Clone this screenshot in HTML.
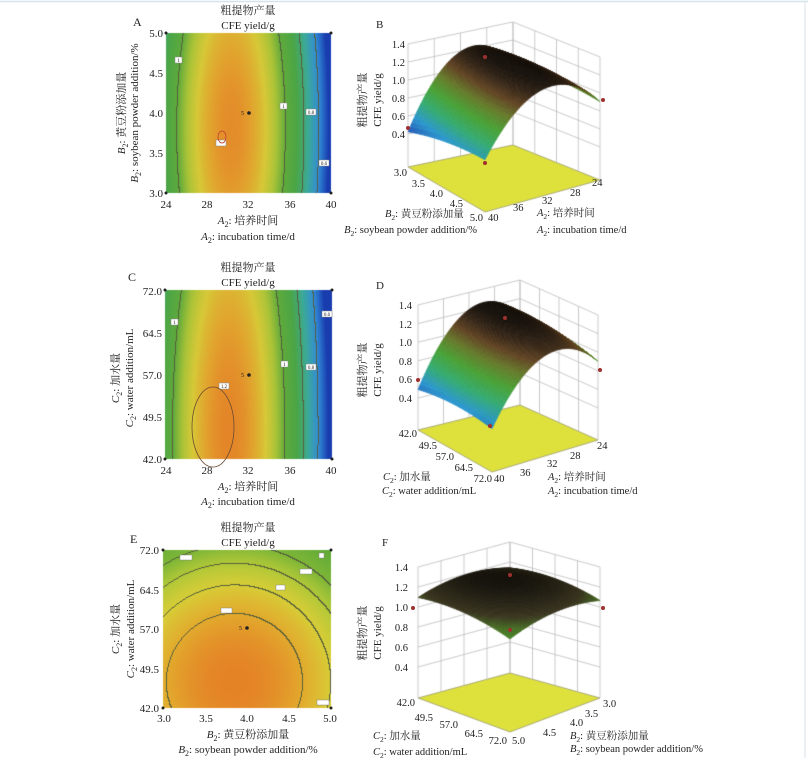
<!DOCTYPE html>
<html><head><meta charset="utf-8">
<style>
html,body{margin:0;padding:0;background:#fff;}
#wrap{position:relative;width:808px;height:758px;overflow:hidden;}
canvas,svg{position:absolute;left:0;top:0;}
text{font-family:"Liberation Serif","Noto Serif CJK SC",serif;fill:#222;}
</style></head>
<body><div id="wrap">
<canvas id="c" width="808" height="758"></canvas>
<svg width="808" height="758" viewBox="0 0 808 758">
<line x1="0" y1="1.5" x2="808" y2="1.5" stroke="#d4e4ea" stroke-width="1.5"/>
<line x1="805" y1="0" x2="805" y2="758" stroke="#e4ecef" stroke-width="1.5"/>
<g font-size="11">
<text x="133" y="26" font-size="12">A</text>
<text x="248" y="14" text-anchor="middle">粗提物产量</text>
<text x="248" y="29" text-anchor="middle">CFE yield/g</text>
<g text-anchor="end"><text x="163" y="37">5.0</text><text x="163" y="77">4.5</text><text x="163" y="117">4.0</text><text x="163" y="157">3.5</text><text x="163" y="197">3.0</text></g>
<g text-anchor="middle"><text x="166" y="208">24</text><text x="207" y="208">28</text><text x="248" y="208">32</text><text x="290" y="208">36</text><text x="331" y="208">40</text></g>
<text x="248" y="224" text-anchor="middle"><tspan font-style="italic">A</tspan><tspan font-size="8" dy="3">2</tspan><tspan dy="-3">:  培养时间</tspan></text>
<text x="248" y="240" text-anchor="middle"><tspan font-style="italic">A</tspan><tspan font-size="8" dy="3">2</tspan><tspan dy="-3">: incubation time/d</tspan></text>
<text transform="translate(125,113) rotate(-90)" text-anchor="middle"><tspan font-style="italic">B</tspan><tspan font-size="8" dy="3">2</tspan><tspan dy="-3">: 黄豆粉添加量</tspan></text>
<text transform="translate(138,113) rotate(-90)" text-anchor="middle"><tspan font-style="italic">B</tspan><tspan font-size="8" dy="3">2</tspan><tspan dy="-3">: soybean powder addition/%</tspan></text>
<text x="128" y="281" font-size="12">C</text>
<text x="248" y="271" text-anchor="middle">粗提物产量</text>
<text x="248" y="286" text-anchor="middle">CFE yield/g</text>
<g text-anchor="end"><text x="162" y="295">72.0</text><text x="162" y="337">64.5</text><text x="162" y="379">57.0</text><text x="162" y="421">49.5</text><text x="162" y="463">42.0</text></g>
<g text-anchor="middle"><text x="166" y="474">24</text><text x="207" y="474">28</text><text x="248" y="474">32</text><text x="290" y="474">36</text><text x="331" y="474">40</text></g>
<text x="248" y="490" text-anchor="middle"><tspan font-style="italic">A</tspan><tspan font-size="8" dy="3">2</tspan><tspan dy="-3">:  培养时间</tspan></text>
<text x="248" y="505" text-anchor="middle"><tspan font-style="italic">A</tspan><tspan font-size="8" dy="3">2</tspan><tspan dy="-3">: incubation time/d</tspan></text>
<text transform="translate(119,378) rotate(-90)" text-anchor="middle"><tspan font-style="italic">C</tspan><tspan font-size="8" dy="3">2</tspan><tspan dy="-3">: 加水量</tspan></text>
<text transform="translate(133,378) rotate(-90)" text-anchor="middle"><tspan font-style="italic">C</tspan><tspan font-size="8" dy="3">2</tspan><tspan dy="-3">: water addition/mL</tspan></text>
<text x="130" y="543" font-size="12">E</text>
<text x="248" y="531" text-anchor="middle">粗提物产量</text>
<text x="248" y="546" text-anchor="middle">CFE yield/g</text>
<g text-anchor="end"><text x="159" y="554">72.0</text><text x="159" y="594">64.5</text><text x="159" y="633">57.0</text><text x="159" y="673">49.5</text><text x="159" y="712">42.0</text></g>
<g text-anchor="middle"><text x="164" y="722">3.0</text><text x="206" y="722">3.5</text><text x="247" y="722">4.0</text><text x="289" y="722">4.5</text><text x="330" y="722">5.0</text></g>
<text x="248" y="738" text-anchor="middle"><tspan font-style="italic">B</tspan><tspan font-size="8" dy="3">2</tspan><tspan dy="-3">: 黄豆粉添加量</tspan></text>
<text x="248" y="753" text-anchor="middle"><tspan font-style="italic">B</tspan><tspan font-size="8" dy="3">2</tspan><tspan dy="-3">: soybean powder addition/%</tspan></text>
<text transform="translate(119,629) rotate(-90)" text-anchor="middle"><tspan font-style="italic">C</tspan><tspan font-size="8" dy="3">2</tspan><tspan dy="-3">: 加水量</tspan></text>
<text transform="translate(134,629) rotate(-90)" text-anchor="middle"><tspan font-style="italic">C</tspan><tspan font-size="8" dy="3">2</tspan><tspan dy="-3">: water addition/mL</tspan></text>
</g>

<g fill="#fff" stroke="#888" stroke-width="0.5">
<rect x="175" y="57" width="7" height="6"/><rect x="280" y="103" width="7" height="6"/><rect x="306" y="109" width="10" height="6"/><rect x="319" y="160" width="10" height="6"/><rect x="216" y="140" width="10" height="6"/>
<rect x="171" y="319" width="7" height="6"/><rect x="281" y="361" width="7" height="6"/><rect x="306" y="364" width="10" height="6"/><rect x="322" y="311" width="10" height="6"/><rect x="219" y="383" width="10" height="6"/>
<rect x="180" y="555" width="12" height="5"/><rect x="319" y="553" width="5" height="5"/><rect x="300" y="569" width="12" height="5"/><rect x="276" y="585" width="9" height="5"/><rect x="221" y="608" width="11" height="5"/><rect x="317" y="700" width="12" height="5"/>
</g>
<g font-size="5" fill="#555" text-anchor="middle"><text x="178.5" y="62">1</text><text x="283.5" y="108">1</text><text x="311" y="114">0.8</text><text x="324" y="165">0.6</text><text x="174.5" y="324">1</text><text x="284.5" y="366">1</text><text x="311" y="369">0.8</text><text x="327" y="316">0.6</text><text x="224" y="388">1.2</text></g>
<ellipse cx="222" cy="137" rx="4" ry="6" fill="none" stroke="#c04030" stroke-width="0.8"/>
<ellipse cx="213" cy="427" rx="21" ry="40" fill="none" stroke="#6a4a30" stroke-width="0.8"/>
<g fill="#222"><circle cx="249" cy="113" r="1.8"/><circle cx="249" cy="375" r="1.8"/><circle cx="247" cy="628" r="1.8"/>
<circle cx="166" cy="33" r="1.5"/><circle cx="331" cy="33" r="1.5"/><circle cx="166" cy="193" r="1.5"/><circle cx="331" cy="193" r="1.5"/>
<circle cx="165" cy="290" r="1.5"/><circle cx="332" cy="290" r="1.5"/><circle cx="165" cy="459" r="1.5"/><circle cx="332" cy="459" r="1.5"/>
<circle cx="163" cy="550" r="1.5"/><circle cx="331" cy="550" r="1.5"/><circle cx="163" cy="708" r="1.5"/><circle cx="331" cy="708" r="1.5"/></g>
<g font-size="6"><text x="241" y="115">5</text><text x="241" y="377">5</text><text x="239" y="630">5</text></g>

<g font-size="10.5">
<text x="376" y="28" font-size="11">B</text>
<g text-anchor="end"><text x="405" y="48">1.4</text><text x="405" y="66">1.2</text><text x="405" y="84">1.0</text><text x="405" y="102">0.8</text><text x="405" y="120">0.6</text><text x="405" y="138">0.4</text></g>
<g text-anchor="end"><text x="407" y="176">3.0</text><text x="425" y="187">3.5</text><text x="443" y="197">4.0</text><text x="463" y="207">4.5</text><text x="483" y="221">5.0</text></g>
<g><text x="592" y="186">24</text><text x="570" y="196">28</text><text x="542" y="204">32</text><text x="513" y="211">36</text><text x="488" y="221">40</text></g>
<text x="385" y="217"><tspan font-style="italic">B</tspan><tspan font-size="7.5" dy="3">2</tspan><tspan dy="-3">: 黄豆粉添加量</tspan></text>
<text x="477" y="233" text-anchor="end"><tspan font-style="italic">B</tspan><tspan font-size="7.5" dy="3">2</tspan><tspan dy="-3">: soybean powder addition/%</tspan></text>
<text x="537" y="216"><tspan font-style="italic">A</tspan><tspan font-size="7.5" dy="3">2</tspan><tspan dy="-3">: 培养时间</tspan></text>
<text x="537" y="233"><tspan font-style="italic">A</tspan><tspan font-size="7.5" dy="3">2</tspan><tspan dy="-3">: incubation time/d</tspan></text>
<text transform="translate(366,100) rotate(-90)" text-anchor="middle" font-size="11">粗提物产量</text>
<text transform="translate(381,100) rotate(-90)" text-anchor="middle" font-size="11">CFE yield/g</text>
<text x="376" y="289" font-size="11">D</text>
<g text-anchor="end"><text x="412" y="309">1.4</text><text x="412" y="328">1.2</text><text x="412" y="346">1.0</text><text x="412" y="365">0.8</text><text x="412" y="383">0.6</text><text x="412" y="402">0.4</text></g>
<g text-anchor="end"><text x="417" y="437">42.0</text><text x="437" y="449">49.5</text><text x="454" y="460">57.0</text><text x="473" y="471">64.5</text><text x="492" y="482">72.0</text></g>
<g><text x="597" y="449">24</text><text x="570" y="459">28</text><text x="547" y="467">32</text><text x="520" y="476">36</text><text x="494" y="482">40</text></g>
<text x="383" y="480"><tspan font-style="italic">C</tspan><tspan font-size="7.5" dy="3">2</tspan><tspan dy="-3">: 加水量</tspan></text>
<text x="382" y="494"><tspan font-style="italic">C</tspan><tspan font-size="7.5" dy="3">2</tspan><tspan dy="-3">: water addition/mL</tspan></text>
<text x="548" y="480"><tspan font-style="italic">A</tspan><tspan font-size="7.5" dy="3">2</tspan><tspan dy="-3">: 培养时间</tspan></text>
<text x="548" y="494"><tspan font-style="italic">A</tspan><tspan font-size="7.5" dy="3">2</tspan><tspan dy="-3">: incubation time/d</tspan></text>
<text transform="translate(366,370) rotate(-90)" text-anchor="middle" font-size="11">粗提物产量</text>
<text transform="translate(381,370) rotate(-90)" text-anchor="middle" font-size="11">CFE yield/g</text>
<text x="382" y="546" font-size="11">F</text>
<g text-anchor="end"><text x="408" y="571">1.4</text><text x="408" y="591">1.2</text><text x="408" y="611">1.0</text><text x="408" y="631">0.8</text><text x="408" y="651">0.6</text><text x="408" y="671">0.4</text></g>
<g text-anchor="end"><text x="415" y="706">42.0</text><text x="433" y="721">49.5</text><text x="458" y="728">57.0</text><text x="483" y="737">64.5</text><text x="507" y="744">72.0</text></g>
<g><text x="603" y="707">3.0</text><text x="585" y="717">3.5</text><text x="570" y="726">4.0</text><text x="543" y="736">4.5</text><text x="512" y="744">5.0</text></g>
<text x="373" y="739"><tspan font-style="italic">C</tspan><tspan font-size="7.5" dy="3">2</tspan><tspan dy="-3">: 加水量</tspan></text>
<text x="373" y="755"><tspan font-style="italic">C</tspan><tspan font-size="7.5" dy="3">2</tspan><tspan dy="-3">: water addition/mL</tspan></text>
<text x="570" y="739"><tspan font-style="italic">B</tspan><tspan font-size="7.5" dy="3">2</tspan><tspan dy="-3">: 黄豆粉添加量</tspan></text>
<text x="570" y="752"><tspan font-style="italic">B</tspan><tspan font-size="7.5" dy="3">2</tspan><tspan dy="-3">: soybean powder addition/%</tspan></text>
<text transform="translate(366,633) rotate(-90)" text-anchor="middle" font-size="11">粗提物产量</text>
<text transform="translate(381,633) rotate(-90)" text-anchor="middle" font-size="11">CFE yield/g</text>
</g>
<g fill="#a03030"><circle cx="485" cy="57" r="2"/><circle cx="603" cy="100" r="2"/><circle cx="408" cy="128" r="2"/><circle cx="485" cy="163" r="2"/>
<circle cx="505" cy="318" r="2"/><circle cx="600" cy="370" r="2"/><circle cx="418" cy="380" r="2"/><circle cx="490" cy="426" r="2"/>
<circle cx="510" cy="575" r="2"/><circle cx="413" cy="608" r="2"/><circle cx="603" cy="608" r="2"/><circle cx="510" cy="630" r="2"/></g>
</svg>
</div>
<script>
const cv=document.getElementById('c'),ctx=cv.getContext('2d');
function lerpC(st,t){if(t<=st[0][0])return st[0][1];for(let i=1;i<st.length;i++){if(t<=st[i][0]){const a=st[i-1],b=st[i],f=(t-a[0])/(b[0]-a[0]);return [0,1,2].map(k=>Math.round(a[1][k]+(b[1][k]-a[1][k])*f));}}return st[st.length-1][1];}
const CMA=[[0.45,[25,60,175]],[0.6,[50,140,215]],[0.75,[60,170,150]],[0.88,[75,165,70]],[1.0,[95,170,60]],[1.08,[170,195,55]],[1.15,[215,200,55]],[1.22,[226,160,45]],[1.28,[228,120,38]]];
const CME=[[0.92,[95,170,55]],[1.0,[125,182,55]],[1.05,[178,200,55]],[1.1,[215,205,55]],[1.15,[226,170,45]],[1.2,[228,130,38]]];
function contour(x0,y0,x1,y1,f,cm,levels){
 const w=x1-x0,h=y1-y0,img=ctx.createImageData(w,h),W=w+1;
 const Z=new Float32Array(W*(h+1));
 for(let j=0;j<=h;j++)for(let i=0;i<=w;i++)Z[j*W+i]=f(i/w,1-j/h);
 const K=z=>{let k=0;for(const l of levels)if(z>l)k++;return k;};
 for(let j=0;j<h;j++)for(let i=0;i<w;i++){
  const z=Z[j*W+i];let c=lerpC(cm,z);const k=K(z);
  if(K(Z[j*W+i+1])!=k||K(Z[(j+1)*W+i])!=k)c=[85,95,60];
  const p=(j*w+i)*4;img.data[p]=c[0];img.data[p+1]=c[1];img.data[p+2]=c[2];img.data[p+3]=255;}
 ctx.putImageData(img,x0,y0);
}
contour(166,33,331,193,(u,v)=>{const A=24+16*u,B=3+2*v;return 1.25-0.9*Math.pow((A-30.3)/10,2)-0.04*Math.pow(B-3.8,2);},CMA,[0.6,0.8,1.0]);
contour(165,290,332,459,(u,v)=>{const A=24+16*u,C=42+30*v;return 1.26-0.9*Math.pow((A-30.1)/10,2)-0.00012*Math.pow(C-47,2);},CMA,[0.6,0.8,1.0]);
contour(163,550,331,708,(u,v)=>{const B=3+2*u,C=42+30*v;return 1.20-0.076*Math.pow(B-3.85,2)-0.000296*Math.pow(C-47,2);},CME,[1.0,1.05,1.1,1.15]);

function proj(P,u,v,z,zf,s){const x=(1-u)*(1-v)*P.b[0]+u*(1-v)*P.l[0]+(1-u)*v*P.r[0]+u*v*P.f[0];const y=(1-u)*(1-v)*P.b[1]+u*(1-v)*P.l[1]+(1-u)*v*P.r[1]+u*v*P.f[1];return [x,y-(z-zf)*s];}
function line(a,b){ctx.beginPath();ctx.moveTo(a[0],a[1]);ctx.lineTo(b[0],b[1]);ctx.stroke();}
function draw3D(P,zf,s,f,cf){
 const c=[proj(P,0,0,zf,zf,s),proj(P,1,0,zf,zf,s),proj(P,1,1,zf,zf,s),proj(P,0,1,zf,zf,s)];
 ctx.fillStyle='#dee13c';ctx.beginPath();ctx.moveTo(...c[0]);for(const q of c)ctx.lineTo(...q);ctx.closePath();ctx.fill();
 ctx.strokeStyle='#9a9a70';ctx.lineWidth=0.8;ctx.stroke();
 ctx.strokeStyle='#bcbcbc';ctx.lineWidth=0.8;
 for(let k=0;k<=4;k++){const t=k/4;line(proj(P,t,0,zf,zf,s),proj(P,t,0,1.4,zf,s));line(proj(P,0,t,zf,zf,s),proj(P,0,t,1.4,zf,s));}
 for(let z=0.4;z<=1.41;z+=0.2){line(proj(P,0,0,z,zf,s),proj(P,1,0,z,zf,s));line(proj(P,0,0,z,zf,s),proj(P,0,1,z,zf,s));}
 const N=60;
 for(let d=0;d<=2*N-2;d++)for(let i=0;i<N;i++){const j=d-i;if(j<0||j>=N)continue;
  const u0=i/N,u1=(i+1)/N,v0=j/N,v1=(j+1)/N;
  const z00=f(u0,v0),z10=f(u1,v0),z11=f(u1,v1),z01=f(u0,v1);
  const q=[proj(P,u0,v0,z00,zf,s),proj(P,u1,v0,z10,zf,s),proj(P,u1,v1,z11,zf,s),proj(P,u0,v1,z01,zf,s)];
  const col=cf((z00+z10+z11+z01)/4);const cs='rgb('+col.join(',')+')';
  ctx.fillStyle=cs;ctx.strokeStyle=cs;ctx.lineWidth=0.6;
  ctx.beginPath();ctx.moveTo(...q[0]);ctx.lineTo(...q[1]);ctx.lineTo(...q[2]);ctx.lineTo(...q[3]);ctx.closePath();ctx.fill();ctx.stroke();}
}
const CM3=[[0,[30,70,175]],[0.2,[40,150,205]],[0.38,[50,170,110]],[0.55,[70,160,50]],[0.7,[100,120,40]],[0.82,[95,65,32]],[0.92,[50,35,20]],[1,[22,16,10]]];
draw3D({b:[513,145],l:[408,167],r:[600,180],f:[485,212]},0.033,90,
 (u,v)=>{const A=24+16*u,B=3+2*v;return 1.25-0.8*Math.pow((A-30)/10,2)-0.04*Math.pow(B-3.8,2)+0.22*u*v*u;},
 z=>lerpC(CM3,(z-0.4)/0.85));
draw3D({b:[520,405],l:[418,430],r:[598,440],f:[492,472]},0.056,93,
 (u,v)=>{const A=24+16*u,C=42+30*v;return 1.26-0.72*Math.pow((A-29.7)/10,2)-0.0002*Math.pow(C-47,2)+0.15*u*v*u;},
 z=>lerpC(CM3,(z-0.4)/0.85));
const CMF=[[0,[70,140,40]],[0.3,[70,110,35]],[0.55,[55,50,28]],[1,[20,17,11]]];
draw3D({b:[510,673],l:[418,698],r:[600,698],f:[510,732]},0.09,100,
 (u,v)=>{const B=3+2*u,C=42+30*v;return 1.22-0.1*Math.pow((B-3.85)/1.15,2)-0.1*Math.pow((C-52)/20,2);},
 z=>lerpC(CMF,(z-1.0)/0.22));
</script>
</body></html>
